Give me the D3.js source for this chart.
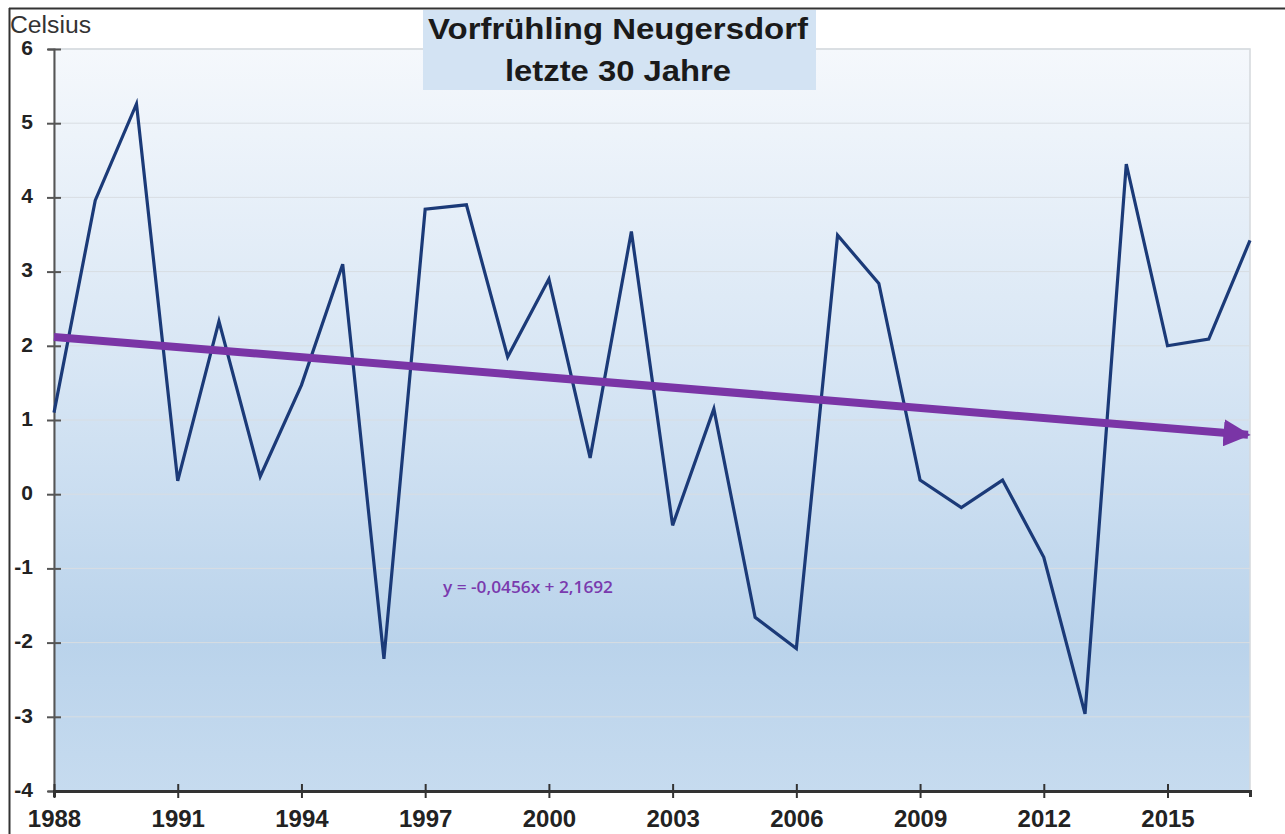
<!DOCTYPE html>
<html>
<head>
<meta charset="utf-8">
<script src="https://cdn.jsdelivr.net/npm/d3@7"></script>
<style>
  body { margin: 0; background: #fff; }
  svg { display: block; font-family: "Liberation Sans", Arial, sans-serif; }
</style>
</head>
<body>
<div id="chart"></div>
<script>
// Daten
const years = d3.range(1988, 2018);
const temps = [1.1, 3.96, 5.26, 0.18, 2.33, 0.24, 1.47, 3.1, -2.22, 3.84,
               3.9, 1.85, 2.9, 0.49, 3.54, -0.42, 1.15, -1.66, -2.08, 3.49,
               2.84, 0.19, -0.18, 0.19, -0.85, -2.96, 4.45, 2.0, 2.09, 3.42];
const trendYears = [1988, 2017];
const trendValues = [2.12, 0.8];
const yTicks = [-4, -3, -2, -1, 0, 1, 2, 3, 4, 5, 6];
const xTicks = [1988, 1991, 1994, 1997, 2000, 2003, 2006, 2009, 2012, 2015];
const titleLines = ["Vorfrühling Neugersdorf", "letzte 30 Jahre"];
const equation = "y = -0,0456x + 2,1692";

const W = 1285, H = 834;
const margin = { top: 49, right: 35, bottom: 43, left: 54 };
const width = W - margin.left - margin.right,
      height = H - margin.top - margin.bottom;

const svg = d3.select("#chart").append("svg")
  .attr("width", W).attr("height", H);

// Rahmen
svg.append("line").attr("x1", 9).attr("x2", W).attr("y1", 8.5).attr("y2", 8.5)
  .attr("stroke", "#333").attr("stroke-width", 2);
svg.append("line").attr("x1", 9.5).attr("x2", 9.5).attr("y1", 8).attr("y2", H)
  .attr("stroke", "#333").attr("stroke-width", 2);

const defs = svg.append("defs");
const grad = defs.append("linearGradient").attr("id", "bg")
  .attr("x1", 0).attr("y1", 0).attr("x2", 0).attr("y2", 1);
grad.append("stop").attr("offset", "0%").attr("stop-color", "#f5f8fc");
grad.append("stop").attr("offset", "45%").attr("stop-color", "#d6e5f4");
grad.append("stop").attr("offset", "80%").attr("stop-color", "#bad3eb");
grad.append("stop").attr("offset", "100%").attr("stop-color", "#c6dbef");

defs.append("marker").attr("id", "arrow")
  .attr("viewBox", "0 0 10 10").attr("refX", 9).attr("refY", 5)
  .attr("markerWidth", 3.4).attr("markerHeight", 3.4)
  .attr("markerUnits", "strokeWidth").attr("orient", "auto")
  .append("path").attr("d", "M0,0 L10,5 L0,10 z").attr("fill", "#7a35a6");

const g = svg.append("g").attr("transform", `translate(${margin.left},${margin.top})`);

const x = d3.scaleLinear().domain([1988, 2017]).range([0, width]);
const y = d3.scaleLinear().domain([-4, 6]).range([height, 0]);

g.append("rect").attr("width", width).attr("height", height)
  .attr("fill", "url(#bg)").attr("stroke", "#d4d8dc").attr("stroke-width", 1.5);

// Gitterlinien
g.selectAll(".grid").data(yTicks.filter(d => d > -4)).enter().append("line")
  .attr("x1", 0).attr("x2", width)
  .attr("y1", d => y(d)).attr("y2", d => y(d))
  .attr("stroke", "#d8dde2").attr("stroke-width", 1);

// Titelbox
const tb = svg.append("g");
tb.append("rect").attr("x", 423).attr("y", 10).attr("width", 393).attr("height", 80)
  .attr("fill", "#d3e3f3");
const titleWidths = [380, 226];
tb.selectAll("text").data(titleLines).enter().append("text")
  .attr("x", 618).attr("y", (d, i) => 39 + i * 42)
  .attr("text-anchor", "middle")
  .attr("font-size", 29).attr("font-weight", "bold").attr("fill", "#1a1a1a")
  .attr("textLength", (d, i) => titleWidths[i]).attr("lengthAdjust", "spacingAndGlyphs")
  .text(d => d);

// Achsen
const yAxis = g.append("g")
  .call(d3.axisLeft(y).tickValues(yTicks).tickSize(6).tickPadding(15).tickFormat(d => String(d)));
yAxis.select(".domain").attr("stroke", "#555").attr("stroke-width", 2);
yAxis.selectAll(".tick line").attr("x2", 7).attr("x1", -7).attr("stroke", "#555").attr("stroke-width", 2);
yAxis.selectAll("text").attr("font-size", 21).attr("font-weight", "bold")
  .attr("fill", "#222").attr("font-family", "Liberation Sans, Arial, sans-serif")
  .attr("dy", "0.25em");

const xAxis = g.append("g").attr("transform", `translate(0,${height})`)
  .call(d3.axisBottom(x).tickValues(xTicks).tickSize(6).tickPadding(18).tickFormat(d3.format("d")));
xAxis.select(".domain").attr("stroke", "#333").attr("stroke-width", 3);
xAxis.selectAll(".tick line").attr("y1", -7).attr("y2", 7).attr("stroke", "#333").attr("stroke-width", 2);
xAxis.selectAll("text").attr("font-size", 24).attr("font-weight", "bold")
  .attr("fill", "#222").attr("font-family", "Liberation Sans, Arial, sans-serif")
  .attr("dy", "0.5em");

// Temperaturkurve
g.append("path").datum(temps)
  .attr("fill", "none").attr("stroke", "#1b3a78").attr("stroke-width", 3.2)
  .attr("stroke-linejoin", "miter")
  .attr("d", d3.line().x((d, i) => x(years[i])).y(d => y(d)));

// Trendlinie
g.append("line")
  .attr("x1", x(trendYears[0])).attr("y1", y(trendValues[0]))
  .attr("x2", x(trendYears[1]) - 2).attr("y2", y(trendValues[1]))
  .attr("stroke", "#7a35a6").attr("stroke-width", 8)
  .attr("marker-end", "url(#arrow)");

g.append("text").attr("x", 389).attr("y", 544)
  .attr("font-size", 17).attr("font-weight", 600).attr("fill", "#7a3aae")
  .attr("font-family", "Open Sans, sans-serif")
  .attr("textLength", 170).attr("lengthAdjust", "spacingAndGlyphs")
  .text(equation);

// Einheit
svg.append("text").attr("x", 10).attr("y", 33)
  .attr("font-size", 23).attr("fill", "#333")
  .attr("textLength", 81).attr("lengthAdjust", "spacingAndGlyphs")
  .text("Celsius");
</script>
</body>
</html>
